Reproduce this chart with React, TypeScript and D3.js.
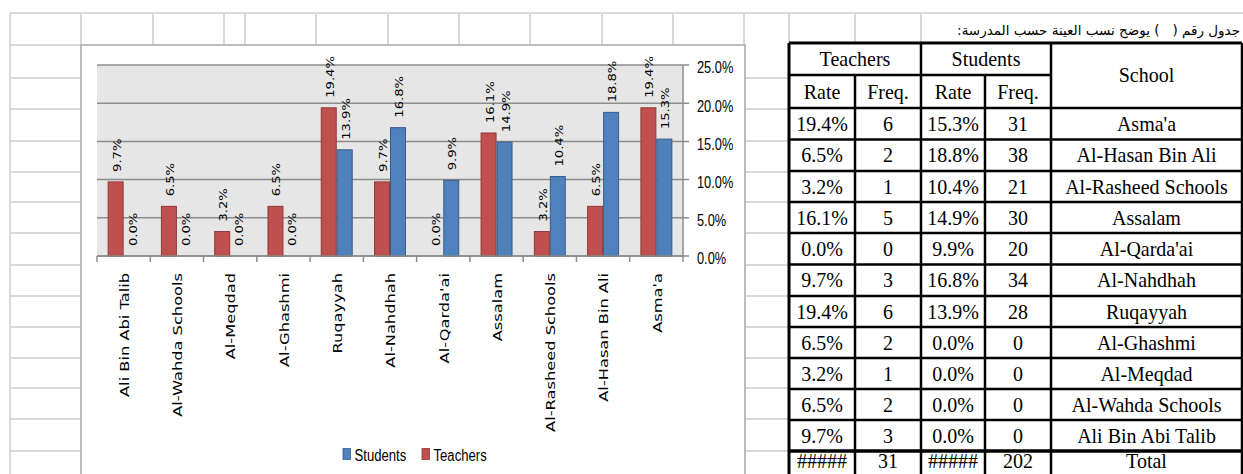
import React from "react";
import * as d3 from "d3";

// ---- data ----
const categories = [
  "Ali Bin Abi Talib",
  "Al-Wahda Schools",
  "Al-Meqdad",
  "Al-Ghashmi",
  "Ruqayyah",
  "Al-Nahdhah",
  "Al-Qarda'ai",
  "Assalam",
  "Al-Rasheed Schools",
  "Al-Hasan Bin Ali",
  "Asma'a",
];
const teacherRates = [9.7, 6.5, 3.2, 6.5, 19.4, 9.7, 0.0, 16.1, 3.2, 6.5, 19.4];
const studentRates = [0.0, 0.0, 0.0, 0.0, 13.9, 16.8, 9.9, 14.9, 10.4, 18.8, 15.3];
const teacherFreq = [3, 2, 1, 2, 6, 3, 0, 5, 1, 2, 6];
const studentFreq = [0, 0, 0, 0, 28, 34, 20, 30, 21, 38, 31];
const yTicks = [0, 5, 10, 15, 20, 25];
const seriesNames = ["Teachers", "Students"];
const legendOrder = ["Students", "Teachers"];
const headerGroups = ["Teachers", "Students"];
const headerSub = ["Rate", "Freq.", "Rate", "Freq."];
const schoolHeader = "School";
const totalRow = ["#####", "31", "#####", "202", "Total"];
const tableTitle = "جدول رقم (   ) يوضح نسب العينة حسب المدرسة:";

// ---- layout ----
const W = 1243;
const H = 474;
const PL = 97, PR = 683, PT = 65, PB = 256;
const COLORS: Record<string, { fill: string; stroke: string }> = {
  Teachers: { fill: "#C0504D", stroke: "#8E3A38" },
  Students: { fill: "#4F81BD", stroke: "#385D8A" },
};
const SHEET_ROWS = [13, 45, 78, 109, 141, 172, 202, 233, 265, 296, 327, 358, 388, 419, 451];
const TOP_COLS = [81, 153, 224, 245, 316, 388, 459, 530, 602, 673, 744, 789, 855, 921];
const TCOLS = [789, 855, 921, 985, 1051, 1242];
const TROWS = [43, 75, 108, 139.5, 171, 202, 233, 264.5, 296, 327, 358, 389, 420, 451, 482];

const fmt = (v: number) => d3.format(".1f")(v) + "%";

export default function App() {
  const x = d3.scaleBand<string>().domain(categories).range([PL, PR]).paddingInner(0.4).paddingOuter(0.2);
  const x1 = d3.scaleBand<string>().domain(seriesNames).range([0, x.bandwidth()]);
  const y = d3.scaleLinear().domain([0, 25]).range([PB, PT]);
  const step = x.step();

  const series = [
    { name: "Teachers", values: teacherRates },
    { name: "Students", values: studentRates },
  ];

  // table rows in reverse order (Asma'a first)
  const tableRows = categories
    .map((c, i) => [fmt(teacherRates[i]), String(teacherFreq[i]), fmt(studentRates[i]), String(studentFreq[i]), c])
    .reverse();
  tableRows.push(totalRow);

  const colCenters = TCOLS.slice(0, -1).map((c, i) => (c + TCOLS[i + 1]) / 2);

  const gridColor = "#D9D9D9";
  const serif = "'Liberation Serif', 'Times New Roman', serif";
  const sans = "'Liberation Sans', Arial, sans-serif";
  const dv = "'DejaVu Sans', Verdana, sans-serif";

  const cellText = (txt: string, cx: number, cyBase: number, key: string) => (
    <text
      key={key}
      transform={`translate(${cx},${cyBase}) scale(1,1.1)`}
      textAnchor="middle"
      fontFamily={serif}
      fontSize={20}
      fill="#000"
    >
      {txt}
    </text>
  );

  return (
    <svg width={W} height={H} style={{ position: "absolute", left: 0, top: 0, background: "#fff" }}>
      {/* spreadsheet gridlines */}
      <g stroke={gridColor} strokeWidth={2}>
        <line x1={10} x2={W} y1={13} y2={13} />
        <line x1={10} x2={10} y1={13} y2={H} />
        {TOP_COLS.map((c) => (
          <line key={"tc" + c} x1={c} x2={c} y1={13} y2={c >= 789 ? 43 : 45} />
        ))}
        {SHEET_ROWS.filter((r) => r > 13).map((r) => (
          <line key={"rl" + r} x1={10} x2={81} y1={r} y2={r} />
        ))}
        {SHEET_ROWS.filter((r) => r > 45).map((r) => (
          <line key={"rr" + r} x1={745} x2={789} y1={r} y2={r} />
        ))}
      </g>

      {/* chart frame */}
      <rect x={81} y={45} width={664} height={H} fill="#fff" stroke="#A6A6A6" strokeWidth={1.5} />

      {/* plot area */}
      <rect x={PL} y={PT} width={PR - PL} height={PB - PT} fill="#E6E6E6" />
      <g stroke="#8C8C8C" strokeWidth={1.5}>
        {yTicks.map((t) => (
          <line key={"g" + t} x1={PL} x2={PR + 6} y1={y(t)} y2={y(t)} />
        ))}
        <line x1={PR} x2={PR} y1={PT} y2={PB} />
        {d3.range(categories.length + 1).map((i) => (
          <line key={"xt" + i} x1={PL + i * step} x2={PL + i * step} y1={PB} y2={PB + 6} />
        ))}
      </g>

      {/* bars */}
      {series.map((s) => (
        <g key={s.name}>
          {s.values.map((v, i) => {
            const bx = (x(categories[i]) as number) + (x1(s.name) as number);
            const bw = x1.bandwidth();
            const by = y(v);
            return v > 0 ? (
              <rect
                key={i}
                x={bx + 0.5}
                y={by}
                width={bw - 1}
                height={PB - by}
                fill={COLORS[s.name].fill}
                stroke={COLORS[s.name].stroke}
                strokeWidth={1}
              />
            ) : null;
          })}
        </g>
      ))}
      <line x1={PL} x2={PR} y1={PB} y2={PB} stroke="#8C8C8C" strokeWidth={1.5} />

      {/* data labels */}
      {series.map((s) => (
        <g key={"lab" + s.name}>
          {s.values.map((v, i) => {
            const cx = (x(categories[i]) as number) + (x1(s.name) as number) + x1.bandwidth() / 2 + 1.5;
            const yy = y(v) - 10;
            return (
              <text
                key={i}
                transform={`translate(${cx},${yy}) scale(1,1.25) rotate(-90)`}
                textAnchor="start"
                dominantBaseline="central"
                fontFamily={dv}
                fontSize={10.5}
                fill="#000"
              >
                {fmt(v)}
              </text>
            );
          })}
        </g>
      ))}

      {/* category labels */}
      {categories.map((c) => (
        <text
          key={"cl" + c}
          transform={`translate(${(x(c) as number) + x.bandwidth() / 2 + 1},${273}) scale(1,1.3) rotate(-90)`}
          textAnchor="end"
          dominantBaseline="central"
          fontFamily={dv}
          fontSize={12.5}
          fill="#000"
        >
          {c}
        </text>
      ))}

      {/* y tick labels */}
      {yTicks.map((t) => (
        <text
          key={"yl" + t}
          transform={`translate(${697},${y(t) + 8.3}) scale(0.8,1)`}
          fontFamily={sans}
          fontSize={16}
          fill="#000"
        >
          {fmt(t)}
        </text>
      ))}

      {/* legend */}
      {legendOrder.map((n, i) => {
        const lx = i === 0 ? 343 : 422;
        return (
          <g key={"lg" + n}>
            <rect x={lx} y={448.5} width={7.5} height={11} fill={COLORS[n].fill} stroke={COLORS[n].stroke} strokeWidth={0.8} />
            <text transform={`translate(${lx + 11.5},${460.5}) scale(0.82,1)`} fontFamily={sans} fontSize={16} fill="#000">
              {n}
            </text>
          </g>
        );
      })}

      {/* table title */}
      <text
        x={1240}
        y={35}
        direction="rtl"
        textAnchor="start"
        fontFamily={dv}
        fontSize={13.5}
        fill="#000"
        style={{ whiteSpace: "pre" }}
      >
        {tableTitle}
      </text>

      {/* table */}
      <g>
        {cellText(headerGroups[0], (TCOLS[0] + TCOLS[2]) / 2, 66, "hg0")}
        {cellText(headerGroups[1], (TCOLS[2] + TCOLS[4]) / 2, 66, "hg1")}
        {cellText(schoolHeader, colCenters[4], 82, "hs")}
        {headerSub.map((h, i) => cellText(h, colCenters[i], 99, "hsub" + i))}
        {tableRows.map((row, r) => {
          const isTotal = r === tableRows.length - 1;
          const base = isTotal ? 468 : (TROWS[r + 2] + TROWS[r + 3]) / 2 + 7;
          return row.map((cell, c) => cellText(cell, colCenters[c], base, `c${r}-${c}`));
        })}
      </g>
      <g stroke="#000" strokeWidth={2.5}>
        <line x1={TCOLS[0]} x2={TCOLS[5]} y1={TROWS[0]} y2={TROWS[0]} strokeWidth={3} />
        <line x1={TCOLS[0]} x2={TCOLS[4]} y1={TROWS[1]} y2={TROWS[1]} />
        {TROWS.slice(2, -1).map((r) => (
          <line key={"tr" + r} x1={TCOLS[0]} x2={TCOLS[5]} y1={r} y2={r} strokeWidth={r === 451 ? 3.5 : 2.5} />
        ))}
        <line x1={TCOLS[0]} x2={TCOLS[0]} y1={TROWS[0]} y2={H} strokeWidth={3} />
        <line x1={TCOLS[2]} x2={TCOLS[2]} y1={TROWS[0]} y2={H} />
        <line x1={TCOLS[4]} x2={TCOLS[4]} y1={TROWS[0]} y2={H} />
        <line x1={TCOLS[5]} x2={TCOLS[5]} y1={TROWS[0]} y2={H} />
        <line x1={TCOLS[1]} x2={TCOLS[1]} y1={TROWS[1]} y2={H} />
        <line x1={TCOLS[3]} x2={TCOLS[3]} y1={TROWS[1]} y2={H} />
      </g>
    </svg>
  );
}
